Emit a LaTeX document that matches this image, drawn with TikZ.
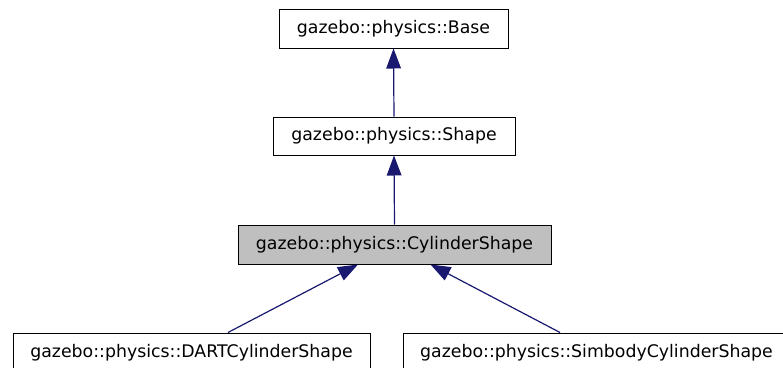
\documentclass[tikz,border=0pt]{standalone}
\usepackage{fontspec}
\setmainfont{DejaVu Sans}
\usepackage{tikz}
\usetikzlibrary{arrows.meta, calc}
\definecolor{edgeblue}{RGB}{25,25,112}
\definecolor{boxgray}{RGB}{191,191,191}

\tikzset{
  classbox/.style={draw=black, line width=0.75pt, fill=white, inner sep=0pt,
    minimum height=29.25pt, font=\fontsize{13}{15}\selectfont},
  inherit/.style={draw=edgeblue, line width=0.9pt,
    -{Triangle[length=15pt, width=11pt, fill=edgeblue]}}
}

\begin{document}
\begin{tikzpicture}[x=0.75pt,y=0.75pt,yscale=-1,xscale=1]
    \clip (0,0) rectangle (783,368);
    
    % Class Nodes
    \node [classbox, minimum width=171.75pt] (base) at (393.5,28.5) {gazebo::physics::Base};
    \node [classbox, minimum width=181.5pt, minimum height=28.5pt] (shape) at (394,136) {gazebo::physics::Shape};
    \node [classbox, minimum width=234.75pt, fill=boxgray] (cyl) at (394.5,244.5) {gazebo::physics::CylinderShape};
    \node [classbox, minimum width=267.75pt] (dart) at (191.5,352.5) {gazebo::physics::DARTCylinderShape};
    \node [classbox, minimum width=290.25pt] (simbody) at (596.5,352.5) {gazebo::physics::SimbodyCylinderShape};
    
    % Connections
    \draw [inherit] (shape.north) -- (base.south);
    \draw [inherit] (cyl.north) -- (shape.south);
    \draw [inherit] ($(dart.north)+(36.5,0)$) -- ($(cyl.south)+(-36.5,0)$);
    \draw [inherit] ($(simbody.north)+(-36.5,0)$) -- ($(cyl.south)+(36,0)$);
    
\end{tikzpicture}
\end{document}
